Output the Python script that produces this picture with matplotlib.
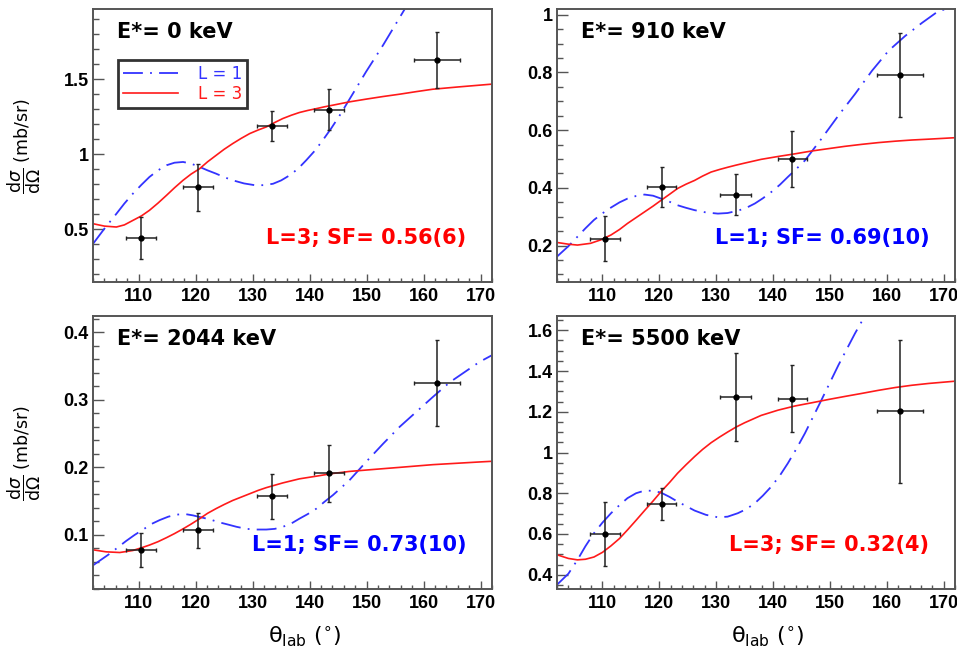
import matplotlib
matplotlib.use("Agg")
import matplotlib.pyplot as plt
from matplotlib.ticker import MultipleLocator, FormatStrFormatter

# ---------------- data ----------------
theta = [110.4, 120.4, 133.4, 143.4, 162.3]
theta_err = [2.6, 2.6, 2.7, 2.6, 4.0]

titles = ["E*= 0 keV", "E*= 910 keV", "E*= 2044 keV", "E*= 5500 keV"]
sf_labels = ["L=3; SF= 0.56(6)", "L=1; SF= 0.69(10)", "L=1; SF= 0.73(10)", "L=3; SF= 0.32(4)"]
sf_colors = ["#ff0000", "#0000ff", "#0000ff", "#ff0000"]

y0 = [0.442, 0.780, 1.191, 1.298, 1.629]
e0 = [0.142, 0.158, 0.100, 0.135, 0.188]
y910 = [0.224, 0.403, 0.376, 0.500, 0.792]
e910 = [0.077, 0.069, 0.071, 0.097, 0.146]
y2044 = [0.078, 0.107, 0.157, 0.191, 0.325]
e2044 = [0.025, 0.026, 0.033, 0.042, 0.064]
y5500 = [0.601, 0.748, 1.273, 1.265, 1.203]
e5500 = [0.158, 0.079, 0.216, 0.163, 0.351]

# L=3 curves (red)
r0_x = [102, 104, 106.1, 107.5, 109, 110.5, 111.9, 113.4, 114.9, 116.3, 117.8, 119.2, 120.7, 122.1, 123.6,
        125, 126.5, 128, 129.5, 131, 132.4, 133.9, 135.3, 136.8, 138.2, 139.7, 141.2, 142.6, 144.1, 147,
        149.9, 152.8, 155.8, 158.7, 161.6, 166, 172]
r0_y = [0.538, 0.522, 0.516, 0.530, 0.56, 0.590, 0.627, 0.675, 0.727, 0.777, 0.827, 0.868, 0.904, 0.950, 0.993,
        1.033, 1.071, 1.106, 1.138, 1.162, 1.182, 1.212, 1.238, 1.260, 1.278, 1.292, 1.304, 1.316, 1.327, 1.349,
        1.367, 1.384, 1.40, 1.417, 1.433, 1.448, 1.467]
r910_x = [102, 104, 105.6, 107.9, 109.7, 111.5, 113, 114.4, 115.9, 117.4, 118.9, 120.3, 121.8, 123.2, 124.7,
          126.2, 127.6, 129.1, 130.6, 132.1, 133.5, 135, 137.9, 140.9, 143.8, 146.8, 149.7, 152.6, 155.6,
          158.5, 161.5, 164.4, 167.4, 172]
r910_y = [0.211, 0.205, 0.202, 0.208, 0.220, 0.237, 0.256, 0.277, 0.297, 0.317, 0.337, 0.357, 0.378, 0.398, 0.413,
          0.426, 0.441, 0.455, 0.464, 0.472, 0.479, 0.486, 0.499, 0.509, 0.518, 0.528, 0.536, 0.544, 0.551,
          0.557, 0.562, 0.566, 0.569, 0.574]
r2044_x = [102, 104.3, 106.7, 109, 110.5, 111.9, 113.4, 114.9, 116.3, 117.8, 119.2, 120.7, 122.1, 123.6, 125,
           126.5, 128, 129.5, 131, 132.4, 135.3, 138.2, 141.2, 144.1, 147, 149.9, 152.8, 155.8, 158.7,
           161.6, 165.7, 169.8, 172]
r2044_y = [0.078, 0.075, 0.074, 0.077, 0.081, 0.085, 0.090, 0.096, 0.102, 0.109, 0.116, 0.124, 0.132, 0.139, 0.145,
           0.151, 0.156, 0.161, 0.166, 0.170, 0.177, 0.183, 0.187, 0.191, 0.194, 0.196, 0.198, 0.200, 0.202,
           0.204, 0.206, 0.208, 0.209]
r5500_x = [102, 104, 105.6, 107, 108.5, 110, 111.5, 113, 114.4, 115.9, 117.4, 118.9, 120.3, 121.8, 123.2,
           124.7, 126.2, 127.6, 129.1, 130.6, 132.1, 133.5, 135, 137.9, 140.9, 143.8, 146.8, 149.7, 152.6,
           155.6, 158.5, 161.5, 164.4, 167.4, 172]
r5500_y = [0.498, 0.480, 0.473, 0.476, 0.487, 0.510, 0.542, 0.578, 0.620, 0.667, 0.715, 0.762, 0.808, 0.853, 0.898,
           0.940, 0.980, 1.015, 1.048, 1.076, 1.102, 1.125, 1.146, 1.182, 1.208, 1.228, 1.244, 1.260, 1.275,
           1.290, 1.305, 1.319, 1.330, 1.339, 1.350]

# L=1 curves (blue)
b0_x = [102, 104, 106.1, 107.5, 109, 110.5, 111.9, 113.4, 114.9, 116.3, 117.8, 119.2, 120.7, 122.1, 123.6,
        125, 126.5, 128.5, 130.6, 132.1, 133.6, 135, 136.5, 138, 139.4, 140.9, 142.3, 143.8, 145.3,
        147.6, 149.9, 152.9, 156.7]
b0_y = [0.404, 0.505, 0.604, 0.672, 0.738, 0.797, 0.849, 0.893, 0.927, 0.944, 0.949, 0.938, 0.916, 0.893, 0.871,
        0.848, 0.827, 0.806, 0.793, 0.795, 0.804, 0.826, 0.860, 0.905, 0.960, 1.023, 1.093, 1.173, 1.260,
        1.404, 1.549, 1.727, 1.967]
b910_x = [102, 104, 105.6, 107, 108.5, 110, 111.5, 113, 114.4, 115.9, 117.4, 118.9, 120.3, 121.8, 123.2,
          124.7, 126.2, 128.2, 130.3, 132, 133.8, 135.3, 136.8, 138.2, 139.7, 141.2, 142.6, 144.1, 145.6,
          148.5, 151.5, 154.4, 157.4, 160.3, 163.2, 166.2, 169.1, 170.5]
b910_y = [0.162, 0.198, 0.231, 0.260, 0.289, 0.312, 0.332, 0.350, 0.363, 0.372, 0.377, 0.373, 0.363, 0.352, 0.340,
          0.331, 0.323, 0.315, 0.311, 0.313, 0.321, 0.331, 0.346, 0.364, 0.386, 0.411, 0.438, 0.466, 0.495,
          0.570, 0.651, 0.725, 0.806, 0.875, 0.926, 0.972, 1.013, 1.02]
b2044_x = [102, 104.9, 107.8, 109.3, 110.8, 112.2, 113.7, 115.2, 116.6, 118.1, 119.5, 121, 122.5, 124,
           125.4, 127.2, 128.9, 130.6, 132.4, 133.9, 135.3, 136.8, 138.2, 139.7, 141.2, 142.6, 144.1,
           147, 149.9, 152.9, 155.8, 158.7, 161.6, 164.6, 169.8, 172]
b2044_y = [0.055, 0.072, 0.091, 0.100, 0.108, 0.116, 0.122, 0.127, 0.130, 0.131, 0.129, 0.126, 0.123, 0.119,
           0.116, 0.112, 0.109, 0.108, 0.108, 0.109, 0.112, 0.117, 0.124, 0.131, 0.139, 0.149, 0.159,
           0.181, 0.208, 0.235, 0.260, 0.282, 0.304, 0.326, 0.356, 0.366]
b5500_x = [102, 104, 105.6, 107, 108.5, 110, 111.5, 113, 114.4, 115.9, 117.4, 118.9, 120.3, 121.8, 123.2,
           124.7, 126.2, 128.2, 130.3, 132, 133.8, 135.3, 136.8, 138.2, 139.7, 141.2, 142.6, 144.1, 145.6,
           148.5, 151.5, 154.4, 156.2]
b5500_y = [0.351, 0.405, 0.473, 0.540, 0.604, 0.656, 0.702, 0.742, 0.776, 0.800, 0.813, 0.812, 0.803, 0.782, 0.759,
           0.737, 0.715, 0.694, 0.682, 0.685, 0.702, 0.722, 0.751, 0.788, 0.833, 0.887, 0.947, 1.018, 1.094,
           1.257, 1.429, 1.584, 1.673]

data_y = [y0, y910, y2044, y5500]
data_e = [e0, e910, e2044, e5500]
red_x = [r0_x, r910_x, r2044_x, r5500_x]
red_y = [r0_y, r910_y, r2044_y, r5500_y]
blue_x = [b0_x, b910_x, b2044_x, b5500_x]
blue_y = [b0_y, b910_y, b2044_y, b5500_y]

ylims = [(0.15, 1.967), (0.074, 1.02), (0.02, 0.424), (0.33, 1.67)]
ymajor = [0.5, 0.2, 0.1, 0.2]
yminor = [0.1, 0.05, 0.02, 0.05]

# ---------------- figure ----------------
fig = plt.figure(figsize=(9.57, 6.48), dpi=100)
W, H = 957.0, 648.0
boxes = [(93, 9, 492, 282), (557, 9, 955, 282), (93, 316, 492, 589), (557, 316, 955, 589)]

blue = "#3333ff"
red = "#ff1a1a"
frame = "#555555"
dashdot = (0, (11, 4, 1, 4))

for i, (l, t, r, b) in enumerate(boxes):
    ax = fig.add_axes([l / W, 1 - b / H, (r - l) / W, (b - t) / H])
    ax.set_xlim(102, 172)
    ax.set_ylim(*ylims[i])
    ax.plot(blue_x[i], blue_y[i], color=blue, lw=1.3, linestyle=dashdot, label="L = 1")
    ax.plot(red_x[i], red_y[i], color=red, lw=1.2, label="L = 3")
    ax.errorbar(theta, data_y[i], yerr=data_e[i], xerr=theta_err, fmt="o", color="black",
                ecolor="#222222", elinewidth=1.1, markersize=3.5, capsize=1.5, capthick=1.0, zorder=5)

    ax.xaxis.set_major_locator(MultipleLocator(10))
    ax.xaxis.set_minor_locator(MultipleLocator(2))
    ax.yaxis.set_major_locator(MultipleLocator(ymajor[i]))
    ax.yaxis.set_minor_locator(MultipleLocator(yminor[i]))
    ax.yaxis.set_major_formatter(FormatStrFormatter("%g"))
    ax.tick_params(axis="both", which="both", direction="in", colors=frame, top=False, right=False)
    ax.tick_params(axis="y", which="major", length=8, width=1.0, pad=3)
    ax.tick_params(axis="y", which="minor", length=4, width=1.0)
    ax.tick_params(axis="x", which="major", length=6, width=1.0, pad=4)
    ax.tick_params(axis="x", which="minor", length=3, width=1.0)
    for lab in ax.get_xticklabels() + ax.get_yticklabels():
        lab.set_color("black")
        lab.set_fontfamily("Liberation Sans")
        lab.set_fontweight("bold")
        lab.set_fontsize(13)
    for s in ax.spines.values():
        s.set_color(frame)
        s.set_linewidth(1.4)

    ax.text(0.06, 0.915, titles[i], transform=ax.transAxes, fontsize=15, fontweight="bold",
            color="black", ha="left", va="center", family="DejaVu Sans")
    ax.text(0.935, 0.16, sf_labels[i], transform=ax.transAxes, fontsize=15, fontweight="bold",
            color=sf_colors[i], ha="right", va="center", family="DejaVu Sans")

    if i in (0, 2):
        ax.set_ylabel(r"$\dfrac{\mathrm{d}\sigma}{\mathrm{d}\Omega}$ (mb/sr)", fontsize=12.5)
        ax.yaxis.set_label_coords(-0.125, 0.5)
    if i in (2, 3):
        ax.set_xlabel(r"θ$_{\mathrm{lab}}$ ($^{\circ}$)", fontsize=16)
        ax.xaxis.set_label_coords(0.53, -0.13)

    if i == 0:
        leg = ax.legend(loc="upper left", bbox_to_anchor=(0.063, 0.815), borderaxespad=0,
                        fontsize=12, frameon=True, fancybox=False, handlelength=3.3,
                        handletextpad=1.2, borderpad=0.3, labelspacing=0.15)
        leg.get_frame().set_edgecolor("black")
        leg.get_frame().set_linewidth(2.0)
        for txt, c in zip(leg.get_texts(), [blue, red]):
            txt.set_color(c)

fig.savefig("out.png", dpi=100)
